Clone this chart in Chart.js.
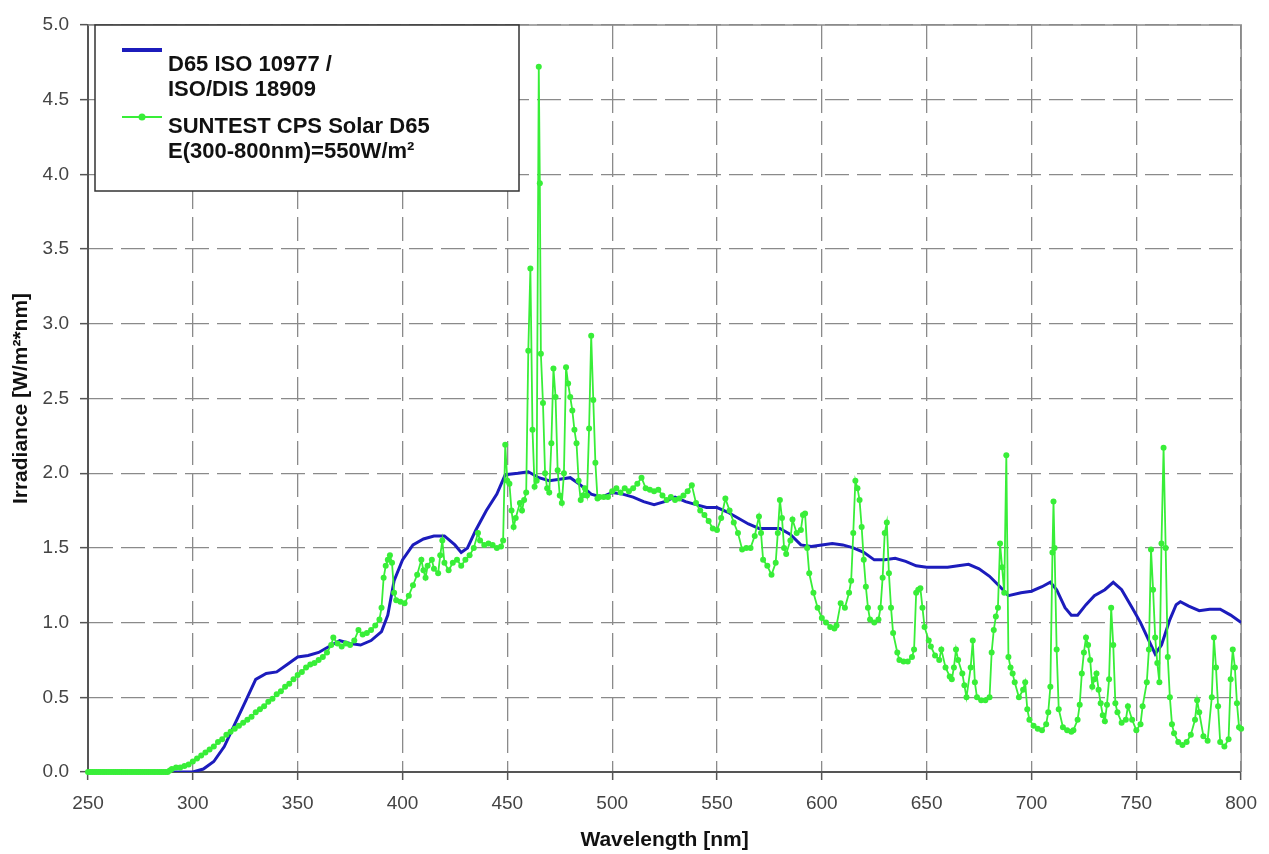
<!DOCTYPE html>
<html>
<head>
<meta charset="utf-8">
<title>D65 vs SUNTEST CPS</title>
<script src="https://cdn.jsdelivr.net/npm/chart.js@4.4.1/dist/chart.umd.min.js"></script>
<style>
  html, body { margin: 0; padding: 0; background: #fff; }
  #wrap { width: 1269px; height: 854px; }
</style>
</head>
<body>
<div id="wrap"><canvas id="chart" width="1269" height="854"></canvas></div>
<script>
/* =========================
   DATA
========================= */
const xTicks = [250, 300, 350, 400, 450, 500, 550, 600, 650, 700, 750, 800];
const yTicks = [0, 0.5, 1, 1.5, 2, 2.5, 3, 3.5, 4, 4.5, 5];

const legendLabels = [
  ["D65 ISO 10977 /", "ISO/DIS 18909"],
  ["SUNTEST CPS Solar D65", "E(300-800nm)=550W/m²"],
];

// D65 ISO 10977 / ISO/DIS 18909
const d65Wl = [250, 300, 305, 310, 315, 320, 325, 330, 335, 340, 345, 350, 355, 360, 365, 370,
  375, 380, 385, 390, 393, 396, 400, 405, 410, 415, 420, 425, 428, 431, 435, 440, 445, 449,
  455, 460, 465, 470, 475, 480, 485, 490, 495, 500, 505, 510, 515, 520, 525, 530, 535, 540,
  545, 550, 555, 560, 565, 570, 575, 580, 585, 590, 595, 600, 605, 610, 615, 620, 625, 630,
  635, 640, 645, 650, 655, 660, 665, 670, 675, 680, 685, 689, 695, 700, 705, 709, 712, 716,
  719, 722, 726, 730, 735, 739, 743, 748, 752, 756, 759, 762, 766, 769, 771, 775, 780, 785,
  790, 795, 800];
const d65Val = [0, 0, 0.02, 0.07, 0.17, 0.32, 0.47, 0.62, 0.66, 0.67, 0.72, 0.77, 0.78, 0.8, 0.84, 0.88,
  0.86, 0.85, 0.88, 0.94, 1.05, 1.28, 1.42, 1.52, 1.56, 1.58, 1.58, 1.52, 1.47, 1.5, 1.62, 1.75, 1.86, 1.99,
  2.0, 2.01, 1.97, 1.95, 1.96, 1.97, 1.92, 1.86, 1.84, 1.87, 1.86, 1.84, 1.81, 1.79, 1.81, 1.84, 1.81, 1.79,
  1.77, 1.77, 1.74, 1.7, 1.66, 1.63, 1.63, 1.63, 1.59, 1.52, 1.51, 1.52, 1.53, 1.52, 1.5, 1.47, 1.42, 1.42,
  1.43, 1.41, 1.38, 1.37, 1.37, 1.37, 1.38, 1.39, 1.36, 1.31, 1.24, 1.18, 1.2, 1.21, 1.24, 1.27, 1.22, 1.1,
  1.05, 1.05, 1.12, 1.18, 1.22, 1.27, 1.22, 1.1, 1.0, 0.88, 0.79, 0.85, 1.02, 1.12, 1.14, 1.11, 1.08, 1.09,
  1.09, 1.05, 1.0];

// SUNTEST CPS Solar D65
const cpsWl = [250, 251, 252, 253, 254, 255, 256, 257, 258, 259, 260, 261, 262, 263, 264, 265, 266, 267, 268, 269,
  270, 271, 272, 273, 274, 275, 276, 277, 278, 279, 280, 281, 282, 283, 284, 285, 286, 287, 288, 289,
  290, 292, 294, 296, 298, 300, 302, 304, 306, 308, 310, 312, 314, 316, 318, 320, 322, 324, 326, 328,
  330, 332, 334, 336, 338, 340, 342, 344, 346, 348, 350, 352, 354, 356, 358, 360, 362, 364, 366, 367,
  369, 371, 373, 375, 377, 379, 381, 383, 385, 387, 389, 390, 391, 392, 393, 394, 395, 396, 397, 399,
  401, 403, 405, 407, 409, 410, 411, 412, 414, 415, 417, 418, 419, 420, 422, 424, 426, 428, 430, 432,
  434, 436, 437, 439, 441, 443, 445, 447, 448, 449, 450, 451, 452, 453, 454, 456, 457, 458, 459, 460,
  461, 462, 463, 464, 465, 465.5, 466, 467, 468, 469, 470, 471, 472, 473, 474, 475, 476, 477, 478, 479,
  480, 481, 482, 483, 484, 485, 486, 487, 488, 489, 490, 491, 492, 493, 494, 496, 498, 500, 502, 504,
  506, 508, 510, 512, 514, 516, 518, 520, 522, 524, 526, 528, 530, 532, 534, 536, 538, 540, 542, 544,
  546, 548, 550, 552, 554, 556, 558, 560, 562, 564, 566, 568, 570, 571, 572, 574, 576, 578, 579, 580,
  581, 582, 583, 585, 586, 588, 590, 591, 592, 593, 594, 596, 598, 600, 602, 604, 606, 607, 609, 611,
  613, 614, 615, 616, 617, 618, 619, 620, 621, 622, 623, 625, 627, 628, 629, 630, 631, 632, 633, 634,
  636, 637, 639, 641, 643, 644, 645, 646, 647, 648, 649, 651, 652, 654, 656, 657, 659, 661, 662, 663,
  664, 665, 667, 668, 669, 671, 672, 673, 674, 676, 678, 680, 681, 682, 683, 684, 685, 686, 687, 688,
  689, 690, 691, 692, 694, 696, 697, 698, 699, 701, 703, 705, 707, 708, 709, 710, 710.5, 711, 712, 713,
  715, 717, 719, 720, 722, 723, 724, 725, 726, 727, 728, 729, 730, 731, 732, 733, 734, 735, 736, 737,
  738, 739, 740, 741, 743, 745, 746, 748, 750, 752, 753, 755, 756, 757, 758, 759, 760, 761, 762, 763,
  764, 765, 766, 767, 768, 770, 772, 774, 776, 778, 779, 780, 782, 784, 786, 787, 788, 789, 790, 792,
  794, 795, 796, 797, 798, 799, 800];
const cpsVal = [0, 0, 0, 0, 0, 0, 0, 0, 0, 0, 0, 0, 0, 0, 0, 0, 0, 0, 0, 0,
  0, 0, 0, 0, 0, 0, 0, 0, 0, 0, 0, 0, 0, 0, 0, 0, 0, 0, 0, 0.01,
  0.02, 0.03, 0.03, 0.04, 0.05, 0.07, 0.09, 0.11, 0.13, 0.15, 0.17, 0.2, 0.22, 0.25, 0.27, 0.29, 0.31, 0.33, 0.35, 0.37,
  0.4, 0.42, 0.44, 0.47, 0.49, 0.52, 0.54, 0.57, 0.59, 0.62, 0.65, 0.67, 0.7, 0.72, 0.73, 0.75, 0.77, 0.8, 0.85, 0.9,
  0.86, 0.84, 0.86, 0.85, 0.88, 0.95, 0.92, 0.93, 0.95, 0.98, 1.02, 1.1, 1.3, 1.38, 1.42, 1.45, 1.4, 1.2, 1.15, 1.14,
  1.13, 1.18, 1.25, 1.32, 1.42, 1.35, 1.3, 1.38, 1.42, 1.36, 1.33, 1.45, 1.55, 1.4, 1.35, 1.4, 1.42, 1.38, 1.42, 1.45,
  1.5, 1.6, 1.55, 1.52, 1.53, 1.52, 1.5, 1.51, 1.55, 2.19, 1.95, 1.93, 1.75, 1.64, 1.7, 1.8, 1.75, 1.82, 1.87, 2.82,
  3.37, 2.29, 1.91, 1.95, 4.72, 3.94, 2.8, 2.47, 2.0, 1.9, 1.87, 2.2, 2.7, 2.51, 2.02, 1.85, 1.8, 2.0, 2.71, 2.6,
  2.51, 2.42, 2.29, 2.2, 1.95, 1.82, 1.85, 1.9, 1.85, 2.3, 2.92, 2.49, 2.07, 1.83, 1.84, 1.84, 1.84, 1.88, 1.9, 1.87,
  1.9, 1.88, 1.9, 1.93, 1.97, 1.9, 1.89, 1.88, 1.89, 1.85, 1.82, 1.84, 1.82, 1.83, 1.85, 1.88, 1.92, 1.8, 1.75, 1.72,
  1.68, 1.63, 1.62, 1.7, 1.83, 1.75, 1.67, 1.6, 1.49, 1.5, 1.5, 1.58, 1.71, 1.6, 1.42, 1.38, 1.32, 1.4, 1.6, 1.82,
  1.7, 1.5, 1.46, 1.55, 1.69, 1.6, 1.62, 1.72, 1.73, 1.5, 1.33, 1.2, 1.1, 1.03, 1.0, 0.97, 0.96, 0.98, 1.13, 1.1,
  1.2, 1.28, 1.6, 1.95, 1.9, 1.82, 1.64, 1.42, 1.24, 1.1, 1.02, 1.0, 1.02, 1.1, 1.3, 1.6, 1.67, 1.33, 1.1, 0.93,
  0.8, 0.75, 0.74, 0.74, 0.77, 0.82, 1.2, 1.22, 1.23, 1.1, 0.97, 0.88, 0.84, 0.78, 0.75, 0.82, 0.7, 0.64, 0.62, 0.7,
  0.82, 0.75, 0.66, 0.58, 0.5, 0.7, 0.88, 0.6, 0.5, 0.48, 0.48, 0.5, 0.8, 0.95, 1.04, 1.1, 1.53, 1.37, 1.2, 2.12,
  0.77, 0.7, 0.66, 0.6, 0.5, 0.55, 0.6, 0.42, 0.35, 0.31, 0.29, 0.28, 0.32, 0.4, 0.57, 1.47, 1.81, 1.5, 0.82, 0.42,
  0.3, 0.28, 0.27, 0.28, 0.35, 0.45, 0.66, 0.8, 0.9, 0.85, 0.75, 0.57, 0.62, 0.66, 0.55, 0.46, 0.38, 0.34, 0.45, 0.62,
  1.1, 0.85, 0.46, 0.4, 0.33, 0.35, 0.44, 0.35, 0.28, 0.32, 0.44, 0.6, 0.82, 1.49, 1.22, 0.9, 0.73, 0.6, 1.53, 2.17,
  1.5, 0.77, 0.5, 0.32, 0.26, 0.2, 0.18, 0.2, 0.25, 0.35, 0.48, 0.4, 0.24, 0.21, 0.5, 0.9, 0.7, 0.44, 0.2, 0.17,
  0.22, 0.62, 0.82, 0.7, 0.46, 0.3, 0.29];

/* =========================
   STYLE
========================= */
const BLUE = "#1c1cbc";
const GREEN = "#38ee38";
const FONT = "'Liberation Sans', Arial, sans-serif";

const toPoints = (xs, ys) => xs.map((x, i) => ({ x, y: ys[i] }));

/* =========================
   PLUGINS
========================= */
// solid frame round the plot (top/right)
const frame = {
  id: "frame",
  beforeDatasetsDraw(chart) {
    const { ctx, chartArea: a } = chart;
    ctx.save();
    ctx.strokeStyle = "#8c8c8c";
    ctx.lineWidth = 1.5;
    ctx.beginPath();
    ctx.moveTo(a.left, a.top);
    ctx.lineTo(a.right, a.top);
    ctx.lineTo(a.right, a.bottom);
    ctx.stroke();
    ctx.restore();
  },
};

// excel style legend box inside the plot
const boxLegend = {
  id: "boxLegend",
  afterDraw(chart) {
    const ctx = chart.ctx;
    ctx.save();
    ctx.fillStyle = "#fff";
    ctx.fillRect(95, 25, 424, 166);
    ctx.strokeStyle = "#333";
    ctx.lineWidth = 1.5;
    ctx.strokeRect(95, 25, 424, 166);

    // blue sample
    ctx.strokeStyle = BLUE;
    ctx.lineWidth = 4;
    ctx.beginPath();
    ctx.moveTo(122, 50);
    ctx.lineTo(162, 50);
    ctx.stroke();

    // green sample
    ctx.strokeStyle = GREEN;
    ctx.lineWidth = 2;
    ctx.beginPath();
    ctx.moveTo(122, 117);
    ctx.lineTo(162, 117);
    ctx.stroke();
    ctx.fillStyle = GREEN;
    ctx.beginPath();
    ctx.arc(142, 117, 3.5, 0, Math.PI * 2);
    ctx.fill();

    ctx.fillStyle = "#111";
    ctx.font = "bold 22px " + FONT;
    ctx.textBaseline = "alphabetic";
    const baselines = [[71, 96], [133, 158]];
    legendLabels.forEach((lines, i) => {
      lines.forEach((t, j) => ctx.fillText(t, 168, baselines[i][j]));
    });
    ctx.restore();
  },
};

/* =========================
   CHART
========================= */
const gridStyle = {
  color: "#8a8a8a",
  lineWidth: 1.3,
  tickColor: "#555",
  tickWidth: 1.5,
  tickLength: 8,
};

new Chart(document.getElementById("chart"), {
  type: "line",
  data: {
    datasets: [
      {
        label: "SUNTEST CPS Solar D65",
        data: toPoints(cpsWl, cpsVal),
        borderColor: GREEN,
        backgroundColor: GREEN,
        borderWidth: 1.8,
        pointRadius: 3,
        pointBorderWidth: 0,
        pointBackgroundColor: GREEN,
        tension: 0,
        clip: 4,
        order: 0,
      },
      {
        label: "D65 ISO 10977 / ISO/DIS 18909",
        data: toPoints(d65Wl, d65Val),
        borderColor: BLUE,
        borderWidth: 3,
        pointRadius: 0,
        tension: 0,
        order: 1,
      },
    ],
  },
  options: {
    responsive: false,
    animation: false,
    devicePixelRatio: 1,
    layout: { padding: { top: 25, right: 26, left: 0, bottom: 0 } },
    plugins: {
      legend: { display: false },
      tooltip: { enabled: false },
    },
    scales: {
      x: {
        type: "linear",
        min: 250,
        max: 800,
        afterBuildTicks: (s) => { s.ticks = xTicks.map((v) => ({ value: v })); },
        afterFit: (s) => { s.height = 82; },
        ticks: { color: "#444", font: { family: FONT, size: 19 }, padding: 12, maxRotation: 0 },
        grid: gridStyle,
        border: { display: true, color: "#555", width: 2, dash: [24, 8] },
        title: {
          display: true,
          text: "Wavelength [nm]",
          color: "#111",
          font: { family: FONT, size: 21, weight: "bold" },
          padding: { top: 0, bottom: 1 },
        },
      },
      y: {
        min: 0,
        max: 5,
        afterBuildTicks: (s) => { s.ticks = yTicks.map((v) => ({ value: v })); },
        afterFit: (s) => { s.width = 88; },
        ticks: {
          color: "#444",
          font: { family: FONT, size: 19 },
          padding: 11,
          callback: (v) => v.toFixed(1),
        },
        grid: gridStyle,
        border: { display: true, color: "#555", width: 2, dash: [24, 8] },
        title: {
          display: true,
          text: "Irradiance [W/m²*nm]",
          color: "#111",
          font: { family: FONT, size: 21, weight: "bold" },
          padding: { top: 9, bottom: 0 },
        },
      },
    },
  },
  plugins: [frame, boxLegend],
});
</script>
</body>
</html>
